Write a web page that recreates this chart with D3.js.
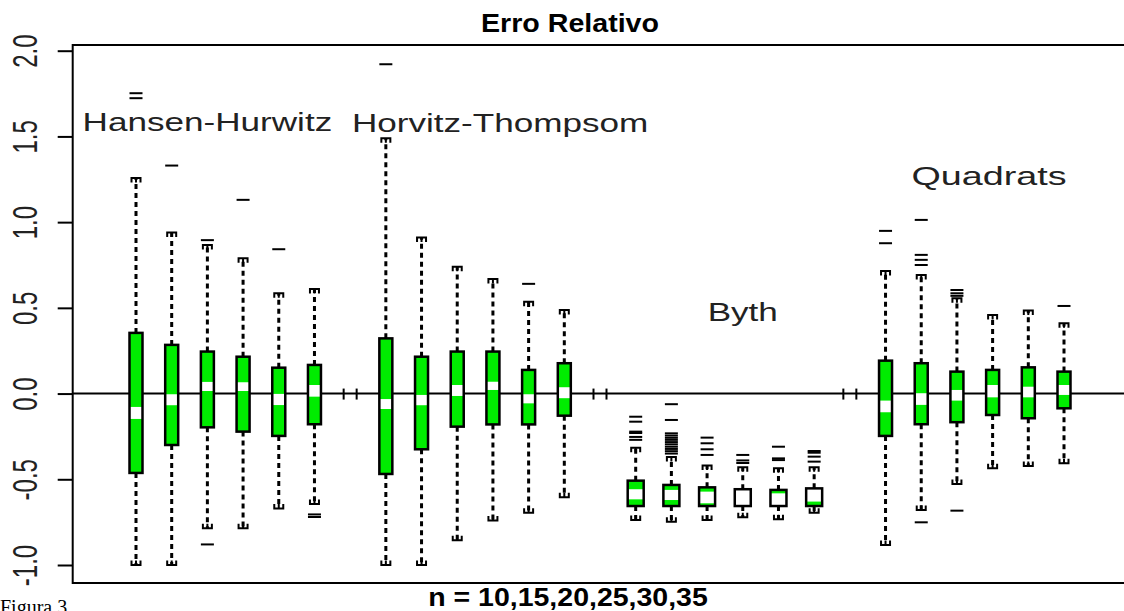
<!DOCTYPE html>
<html>
<head>
<meta charset="utf-8">
<script src="https://cdn.jsdelivr.net/npm/d3@7"></script>
<style>
  html, body { margin: 0; padding: 0; background: #fff; }
  svg { display: block; }
</style>
</head>
<body>
<div id="chart"></div>
<script>
"use strict";

// four estimators, six sample sizes each (n = 10,15,20,25,30,35)
var groups = ["Hansen-Hurwitz", "Horvitz-Thompsom", "Byth", "Quadrats"];
var sampleSizes = [10, 15, 20, 25, 30, 35];
var yTicks = [-1, -0.5, 0, 0.5, 1, 1.5, 2];

// box statistics, 24 boxes in group order
var whiskerHigh = [1.258, 0.94, 0.866, 0.79, 0.585, 0.61,
                   1.49, 0.91, 0.74, 0.668, 0.536, 0.488,
                   -0.316, -0.37, -0.42, -0.43, -0.436, -0.43,
                   0.715, 0.692, 0.556, 0.459, 0.484, 0.41];
var q3 = [0.354, 0.284, 0.245, 0.215, 0.151, 0.167,
          0.322, 0.215, 0.245, 0.245, 0.138, 0.177,
          -0.508, -0.533, -0.547, -0.558, -0.562, -0.553,
          0.192, 0.177, 0.128, 0.138, 0.153, 0.128];
var notchHigh = [-0.078, -0.004, 0.068, 0.066, -0.002, 0.05,
                 -0.032, -0.008, 0.05, 0.069, -0.004, 0.037,
                 -0.558, -0.562, -0.572, -0.558, -0.582, -0.553,
                 -0.041, 0.002, 0.021, 0.05, 0.04, 0.05];
var notchLow = [-0.148, -0.068, 0.015, 0.015, -0.067, -0.018,
                -0.09, -0.068, -0.014, 0.021, -0.057, -0.027,
                -0.617, -0.621, -0.64, -0.656, -0.656, -0.63,
                -0.109, -0.066, -0.041, -0.022, -0.022, -0.008];
var q1 = [-0.463, -0.30, -0.197, -0.222, -0.247, -0.179,
          -0.469, -0.325, -0.193, -0.18, -0.18, -0.129,
          -0.656, -0.656, -0.656, -0.656, -0.656, -0.656,
          -0.247, -0.179, -0.167, -0.125, -0.144, -0.086];
var whiskerLow = [-1.0, -1.0, -0.786, -0.786, -0.67, -0.644,
                  -1.0, -1.0, -0.855, -0.74, -0.695, -0.605,
                  -0.737, -0.747, -0.737, -0.722, -0.733, -0.695,
                  -0.883, -0.679, -0.527, -0.436, -0.422, -0.407];

// outliers: [box index, value]
var outliers = [
    [0, 1.752], [0, 1.723], [1, 1.33], [2, 0.895], [2, -0.88], [3, 1.13],
    [4, 0.842], [5, -0.705], [5, -0.72],
    [6, 1.921], [10, 0.64],
    [12, -0.135], [12, -0.164], [12, -0.222], [12, -0.23], [12, -0.253], [12, -0.27],
    [13, -0.062], [13, -0.154], [13, -0.232], [13, -0.245], [13, -0.258], [13, -0.27],
    [13, -0.283], [13, -0.296], [13, -0.31], [13, -0.323], [13, -0.336], [13, -0.35],
    [14, -0.257], [14, -0.29], [14, -0.325], [14, -0.358],
    [15, -0.358], [15, -0.39], [15, -0.405],
    [16, -0.31], [16, -0.378], [16, -0.388],
    [17, -0.335], [17, -0.345], [17, -0.368], [17, -0.397],
    [18, 0.949], [18, 0.877],
    [19, 1.013], [19, 0.809], [19, 0.78], [19, 0.75], [19, -0.751],
    [20, 0.604], [20, 0.585], [20, 0.57], [20, -0.683],
    [23, 0.511]
];

// group label anchors in plot units (slot, value)
var labelSlot = [3, 11.2, 18, 24.9];
var labelValue = [1.532, 1.528, 0.425, 1.217];

var W = 1124, H = 611;
var plotLeft = 72.7, plotTop = 45, plotBottom = 583;
var green = "#00ec00";

var svg = d3.select("#chart").append("svg")
    .attr("width", W)
    .attr("height", H);

svg.append("rect").attr("width", W).attr("height", H).attr("fill", "#fff");

// slot 1..27: six boxes per group, one empty slot between groups
var x = d3.scaleLinear().domain([1, 27]).range([136, 1064]);
var y = d3.scaleLinear().domain([-1, 2]).range([565, 50.7]);

var slotOf = function (i) { return Math.floor(i / 6) * 7 + (i % 6) + 1; };
var halfW = function (i) { return Math.floor(i / 6) === 2 ? 8 : 6.5; };

var boxes = q3.map(function (d, i) {
    return {
        i: i, slot: slotOf(i), n: sampleSizes[i % 6],
        hi: whiskerHigh[i], q3: q3[i], nh: notchHigh[i],
        nl: notchLow[i], q1: q1[i], lo: whiskerLow[i]
    };
});

// frame
svg.append("path")
    .attr("d", "M" + (W + 5) + "," + plotTop + "H" + plotLeft + "V" + plotBottom + "H" + (W + 5))
    .attr("fill", "none")
    .attr("stroke", "#000")
    .attr("stroke-width", 2);

// zero reference line
svg.append("line")
    .attr("x1", plotLeft).attr("x2", W + 5)
    .attr("y1", y(0)).attr("y2", y(0))
    .attr("stroke", "#000")
    .attr("stroke-width", 2);

// y axis
var yAxis = svg.append("g")
    .attr("transform", "translate(" + plotLeft + ",0)")
    .call(d3.axisLeft(y)
        .tickValues(yTicks)
        .tickSize(15)
        .tickSizeOuter(0)
        .tickFormat(function (d) { return d.toFixed(1); }));

yAxis.select(".domain").remove();
yAxis.selectAll(".tick line").attr("stroke", "#000").attr("stroke-width", 2);
yAxis.selectAll(".tick text")
    .attr("x", null).attr("dy", null)
    .attr("transform", "translate(-36,0) scale(1.45,1) rotate(-90)")
    .attr("text-anchor", "middle")
    .attr("fill", "#222")
    .style("font-family", "'Liberation Sans', Arial, sans-serif")
    .style("font-size", "24px");

// empty slots between groups show as a pair of short ticks on the zero line
var gaps = [7, 14, 21];
gaps.forEach(function (s) {
    [-6.5, 6.5].forEach(function (dx) {
        svg.append("line")
            .attr("x1", x(s) + dx).attr("x2", x(s) + dx)
            .attr("y1", y(0) - 5).attr("y2", y(0) + 6)
            .attr("stroke", "#000")
            .attr("stroke-width", 2);
    });
});

var g = svg.append("g").attr("class", "boxes");

var box = g.selectAll("g.box")
    .data(boxes)
    .enter().append("g")
    .attr("class", "box")
    .attr("transform", function (d) { return "translate(" + x(d.slot) + ",0)"; });

// whiskers
box.append("line")
    .attr("y1", function (d) { return y(d.q3); })
    .attr("y2", function (d) { return y(d.hi); })
    .attr("stroke", "#000").attr("stroke-width", 3)
    .attr("stroke-dasharray", "5,4");

box.append("line")
    .attr("y1", function (d) { return y(d.q1); })
    .attr("y2", function (d) { return y(d.lo); })
    .attr("stroke", "#000").attr("stroke-width", 3)
    .attr("stroke-dasharray", "5,4");

// whisker caps (comb shaped)
box.append("path")
    .attr("d", function (d) {
        var t = y(d.hi);
        return "M-4.5," + (t + 4.5) + "V" + t + "H4.5V" + (t + 4.5) + "M0," + t + "V" + (t + 4.5);
    })
    .attr("fill", "none").attr("stroke", "#000").attr("stroke-width", 2);

box.append("path")
    .attr("d", function (d) {
        var b = y(d.lo);
        return "M-4.5," + (b - 4.5) + "V" + b + "H4.5V" + (b - 4.5) + "M0," + b + "V" + (b - 4.5);
    })
    .attr("fill", "none").attr("stroke", "#000").attr("stroke-width", 2);

// box body
box.append("rect")
    .attr("x", function (d) { return -halfW(d.i); })
    .attr("width", function (d) { return 2 * halfW(d.i); })
    .attr("y", function (d) { return y(d.q3); })
    .attr("height", function (d) { return y(d.q1) - y(d.q3); })
    .attr("fill", green);

// white median band
box.append("rect")
    .attr("x", function (d) { return -halfW(d.i); })
    .attr("width", function (d) { return 2 * halfW(d.i); })
    .attr("y", function (d) { return y(d.nh); })
    .attr("height", function (d) { return y(d.nl) - y(d.nh); })
    .attr("fill", "#fff");

box.append("rect")
    .attr("x", function (d) { return -halfW(d.i); })
    .attr("width", function (d) { return 2 * halfW(d.i); })
    .attr("y", function (d) { return y(d.q3); })
    .attr("height", function (d) { return y(d.q1) - y(d.q3); })
    .attr("fill", "none")
    .attr("stroke", "#000")
    .attr("stroke-width", 2.5);

// outliers as short dashes
g.selectAll("line.out")
    .data(outliers)
    .enter().append("line")
    .attr("class", "out")
    .attr("x1", function (d) { return x(slotOf(d[0])) - 6.5; })
    .attr("x2", function (d) { return x(slotOf(d[0])) + 6.5; })
    .attr("y1", function (d) { return y(d[1]); })
    .attr("y2", function (d) { return y(d[1]); })
    .attr("stroke", "#000")
    .attr("stroke-width", 2);

// group names
svg.selectAll("text.group")
    .data(groups)
    .enter().append("text")
    .attr("class", "group")
    .attr("transform", function (d, i) {
        var sx = d === "Quadrats" ? 1.45 : 1.35;
        return "translate(" + x(labelSlot[i]) + "," + y(labelValue[i]) + ") scale(" + sx + ",1)";
    })
    .attr("text-anchor", "middle")
    .attr("fill", "#222")
    .style("font-family", "'Liberation Sans', Arial, sans-serif")
    .style("font-size", "26px")
    .text(function (d) { return d; });

// title
svg.append("text")
    .attr("transform", "translate(570,32) scale(1.1,1)")
    .attr("text-anchor", "middle")
    .style("font-family", "'Liberation Sans', Arial, sans-serif")
    .style("font-weight", "bold")
    .style("font-size", "26px")
    .text("Erro Relativo");

// x label
svg.append("text")
    .attr("transform", "translate(568,606) scale(1.14,1)")
    .attr("text-anchor", "middle")
    .style("font-family", "'Liberation Sans', Arial, sans-serif")
    .style("font-weight", "bold")
    .style("font-size", "25px")
    .text("n = " + sampleSizes.join(","));

svg.append("text")
    .attr("x", 0)
    .attr("y", 614)
    .style("font-family", "'Liberation Serif', 'Times New Roman', serif")
    .style("font-size", "20px")
    .text("Figura 3");
</script>
</body>
</html>
